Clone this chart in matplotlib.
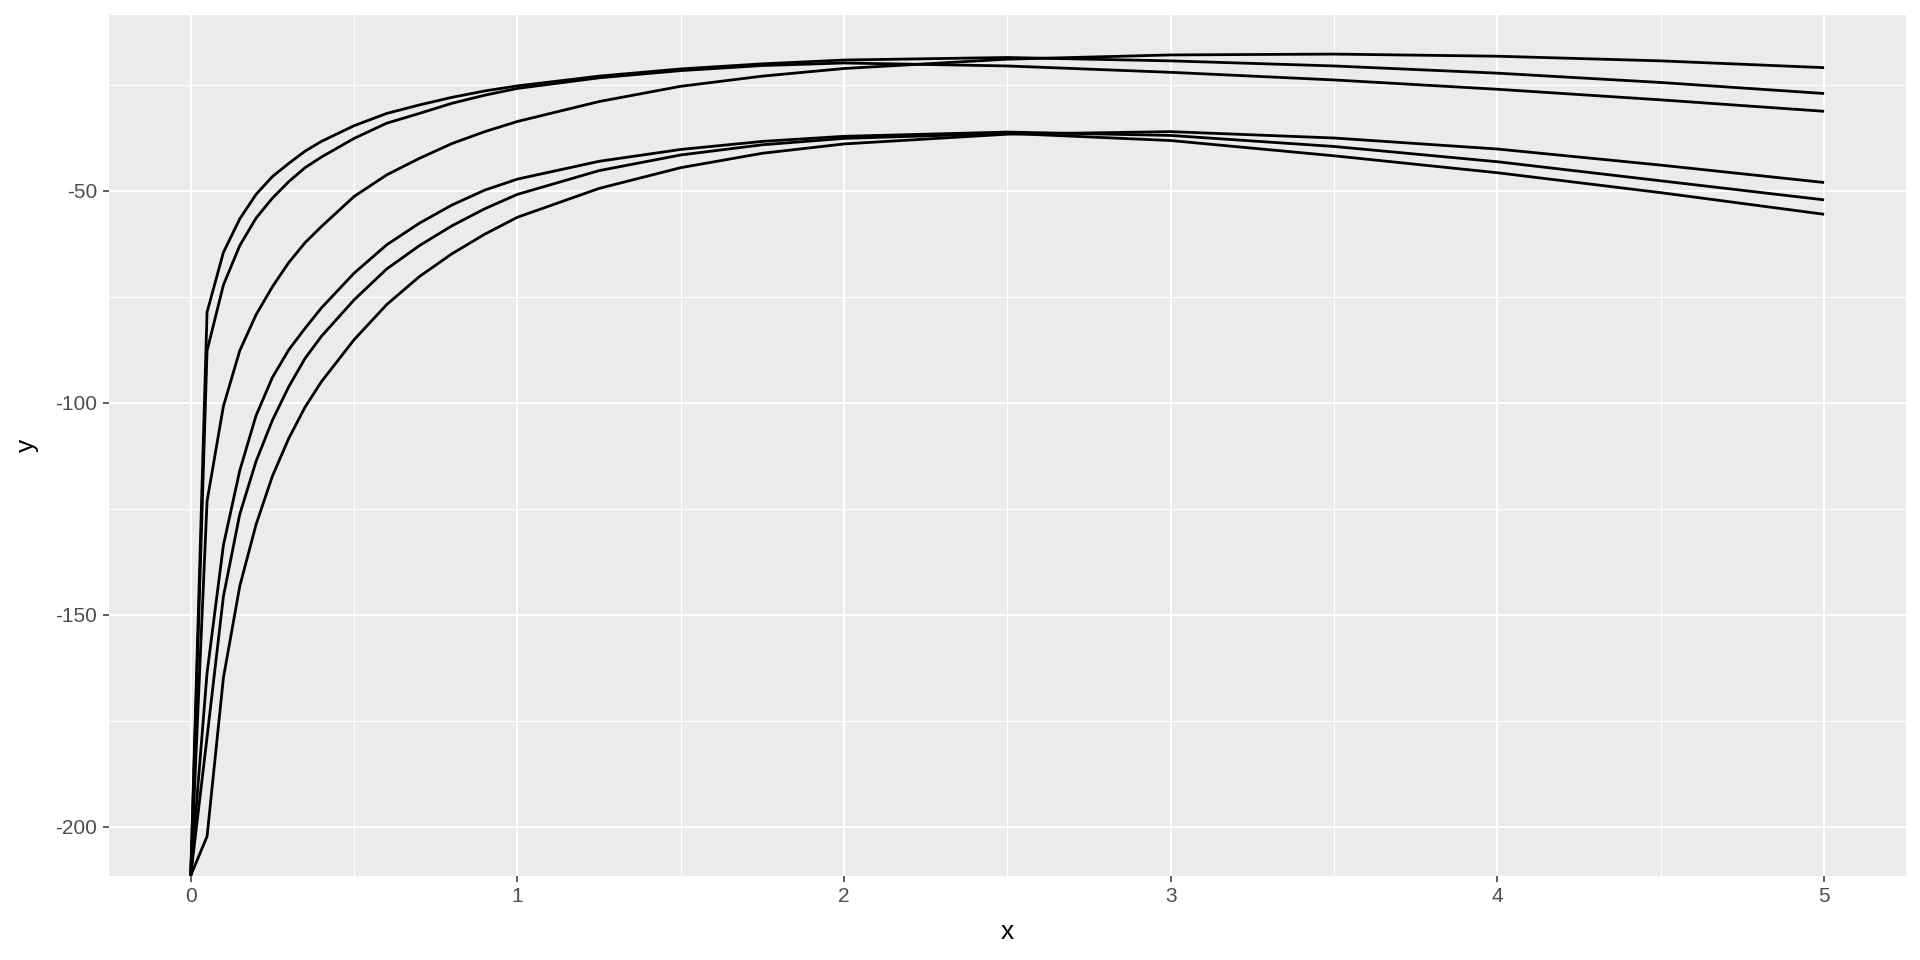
import numpy as np
import matplotlib.pyplot as plt
from matplotlib.ticker import MultipleLocator

plt.rcParams['font.family'] = ['Liberation Sans', 'DejaVu Sans']
plt.rcParams['axes.unicode_minus'] = False

# values; y at x = 0 is -Inf (drawn on the panel edge, like ggplot)
x = [0, 0.05, 0.1, 0.15, 0.2, 0.25, 0.3, 0.35, 0.4, 0.5, 0.6, 0.7, 0.8, 0.9,
     1.0, 1.25, 1.5, 1.75, 2.0, 2.5, 3.0, 3.5, 4.0, 4.5, 5.0]

y1 = [-np.inf, -78.6, -64.5, -56.6, -50.8, -46.6, -43.5, -40.6, -38.3, -34.6,
      -31.7, -29.7, -27.9, -26.4, -25.2, -22.9, -21.2, -20.0, -19.1, -18.5,
      -19.3, -20.5, -22.2, -24.4, -27.0]
y2 = [-np.inf, -87.7, -72.2, -62.9, -56.4, -51.7, -47.8, -44.5, -42.0, -37.6,
      -34.0, -31.7, -29.3, -27.4, -25.8, -23.3, -21.6, -20.4, -19.8, -20.5,
      -22.0, -23.8, -26.0, -28.5, -31.2]
y3 = [-np.inf, -123.2, -100.8, -87.7, -79.2, -72.6, -66.9, -62.2, -58.4, -51.3,
      -46.2, -42.3, -38.8, -36.0, -33.6, -28.9, -25.3, -22.9, -21.1, -18.9,
      -17.9, -17.7, -18.2, -19.3, -20.9]
y4 = [-np.inf, -163.7, -133.6, -116.0, -103.0, -94.0, -87.5, -82.4, -77.6, -69.4,
      -62.7, -57.6, -53.3, -49.8, -47.2, -43.0, -40.2, -38.3, -37.1, -36.1,
      -36.9, -39.5, -43.1, -47.6, -52.1]
y5 = [-np.inf, -178.9, -145.7, -126.3, -113.8, -104.1, -96.2, -89.5, -84.3, -75.7,
      -68.4, -62.9, -58.2, -54.2, -50.8, -45.2, -41.5, -39.1, -37.6, -36.4,
      -38.1, -41.7, -45.7, -50.4, -55.5]
y6 = [-np.inf, -202.3, -164.9, -143.3, -128.7, -117.3, -108.4, -101.0, -95.0, -85.1,
      -76.8, -70.2, -64.8, -60.2, -56.2, -49.4, -44.5, -41.1, -38.9, -36.6,
      -36.0, -37.5, -40.1, -43.9, -48.0]

curves = [y1, y2, y3, y4, y5, y6]

# ggplot-like limits: 5% expansion on the finite data range
finite = np.concatenate([np.asarray(c)[np.isfinite(c)] for c in curves])
ypad = 0.05 * (finite.max() - finite.min())
ylim = (finite.min() - ypad, finite.max() + ypad)
xpad = 0.05 * (max(x) - min(x))
xlim = (min(x) - xpad, max(x) + xpad)

fig = plt.figure(figsize=(19.2, 9.6), dpi=100)
ax = fig.add_axes([0.0568, 0.088, 0.9358, 0.8964])
ax.set_facecolor('#EBEBEB')

for c in curves:
    yy = np.where(np.isneginf(c), ylim[0], c)
    ax.plot(x, yy, color='black', lw=2.0, solid_joinstyle='round',
            solid_capstyle='butt')

ax.set_xlim(xlim)
ax.set_ylim(ylim)

ax.xaxis.set_major_locator(MultipleLocator(1))
ax.xaxis.set_minor_locator(MultipleLocator(0.5))
ax.yaxis.set_major_locator(MultipleLocator(50))
ax.yaxis.set_minor_locator(MultipleLocator(25))

ax.grid(which='major', color='white', lw=1.5)
ax.grid(which='minor', color='white', lw=0.75)
ax.set_axisbelow(True)

for s in ax.spines.values():
    s.set_visible(False)

ax.tick_params(which='major', length=4.5, width=1.1, color='#333333',
               labelsize=15, labelcolor='#4D4D4D', pad=4)
ax.tick_params(which='minor', length=0)

ax.set_xlabel('x', fontsize=19, labelpad=10)
ax.set_ylabel('y', fontsize=19, labelpad=12)

fig.savefig('out.png', dpi=100, facecolor='white')
